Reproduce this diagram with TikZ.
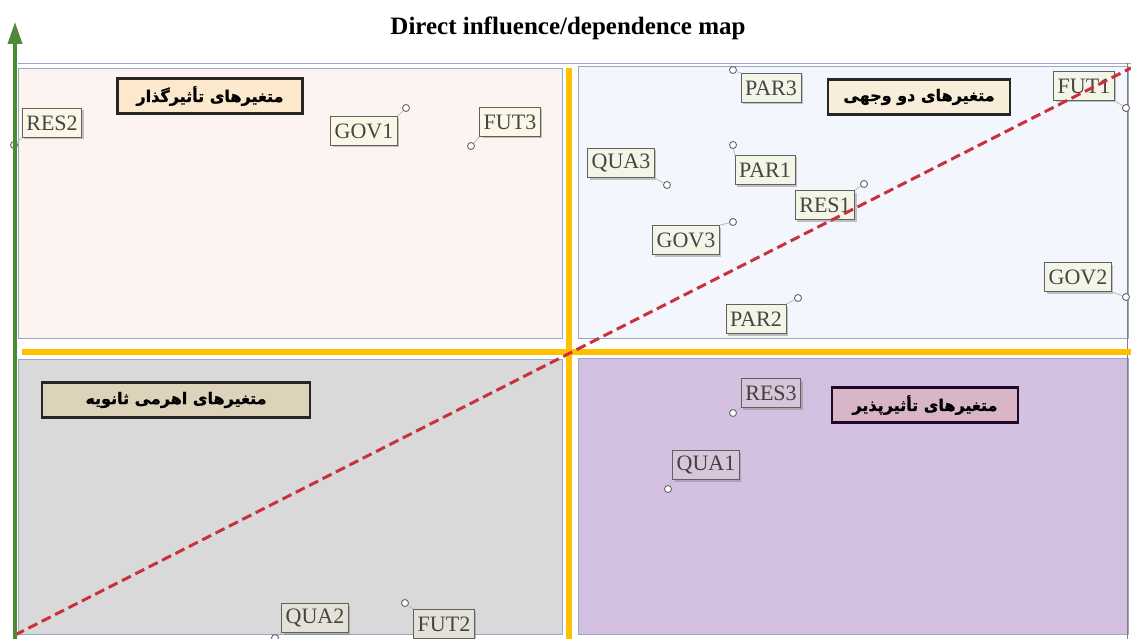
\documentclass[tikz,border=0pt]{standalone}
\usepackage{fontspec}
\setmainfont{Liberation Serif}
\newfontfamily\arabicfont[Script=Arabic,BoldFeatures={FakeBold=1.2}]{DejaVu Sans}
\TeXXeTstate=1
\usetikzlibrary{arrows.meta,shadows}

\definecolor{quadTL}{HTML}{FDF3F1}
\definecolor{quadTR}{HTML}{F3F6FC}
\definecolor{quadBL}{HTML}{D9D9D9}
\definecolor{quadBR}{HTML}{D4C0E1}
\definecolor{framecol}{HTML}{95A8C8}
\definecolor{axisorange}{HTML}{FFC000}
\definecolor{axisgreen}{HTML}{4E8A35}
\definecolor{diagred}{HTML}{C8323C}
\definecolor{labTL}{HTML}{FBF7E6}
\definecolor{labTR}{HTML}{F3F6E6}
\definecolor{labBL}{HTML}{E4E1D6}
\definecolor{labBR}{HTML}{D9C5D9}
\definecolor{labtext}{HTML}{454545}
\definecolor{catTL}{HTML}{FCE8CC}
\definecolor{catTR}{HTML}{F8EDD8}
\definecolor{catBL}{HTML}{DDD3BB}
\definecolor{catBR}{HTML}{D8B5C7}
\definecolor{catBRline}{HTML}{1E0A28}

\tikzset{
	quad/.style={draw=framecol, line width=0.8pt},
	varlabel/.style={draw=gray!75!black, line width=0.8pt, text=labtext,
		font=\fontsize{22}{22}\selectfont, inner xsep=4pt, inner ysep=3pt,
		minimum height=29pt,
		drop shadow={shadow xshift=2pt, shadow yshift=-2pt, opacity=0.45}},
	varpoint/.style={circle, draw=gray!80!black, fill=white, line width=0.9pt,
		inner sep=0pt, minimum size=7pt},
	leader/.style={draw=gray!55, line width=0.8pt},
	catbox/.style={draw=black!85, line width=2.5pt, inner sep=0pt,
		minimum height=35pt, font=\arabicfont\bfseries\fontsize{16}{16}\selectfont},
}

\begin{document}
\begin{tikzpicture}[x=1pt, y=-1pt]
	\useasboundingbox (0,0) rectangle (1131,639);
	% title
	\node[font=\bfseries\fontsize{25}{25}\selectfont] (title) at (568,28) {Direct influence/dependence map};
	% quadrants
	\draw[quad, fill=quadTL] (18,68) rectangle (562,338);
	\draw[quad, fill=quadTR] (578,66) rectangle (1128,338);
	\draw[quad, fill=quadBL] (18,359) rectangle (562,634);
	\draw[quad, fill=quadBR] (578,358) rectangle (1128,634);
	\draw[framecol, line width=0.8pt] (18,63) -- (1131,63);
	\draw[gray, line width=0.6pt] (1127,63) -- (1127,639);
	% axes of the quadrants
	\coordinate (hL) at (22,352);
	\coordinate (hR) at (1131,352);
	\coordinate (vT) at (569,68);
	\coordinate (vB) at (569,639);
	\draw[axisorange, line width=6pt] (hL) -- (hR);
	\draw[axisorange, line width=6pt] (vT) -- (vB);

	% variables
	\node[varpoint] (RES2p) at (14,145) {};
	\node[varlabel, fill=labTL] (RES2) at (52,123) {RES2};
	\draw[leader] (RES2p) -- (RES2.south west);
	\node[varpoint] (GOV1p) at (406,108) {};
	\node[varlabel, fill=labTL] (GOV1) at (364,131) {GOV1};
	\draw[leader] (GOV1p) -- (GOV1.north east);
	\node[varpoint] (FUT3p) at (471,146) {};
	\node[varlabel, fill=labTL] (FUT3) at (510,122) {FUT3};
	\draw[leader] (FUT3p) -- (FUT3.south west);

	\node[varpoint] (PAR3p) at (733,70) {};
	\node[varlabel, fill=labTR] (PAR3) at (771,88) {PAR3};
	\draw[leader] (PAR3p) -- (PAR3.north west);
	\node[varpoint] (FUT1p) at (1126,108) {};
	\node[varlabel, fill=labTR] (FUT1) at (1084,86) {FUT1};
	\draw[leader] (FUT1p) -- (FUT1.south east);
	\node[varpoint] (QUA3p) at (667,185) {};
	\node[varlabel, fill=labTR] (QUA3) at (621,163) {QUA3};
	\draw[leader] (QUA3p) -- (QUA3.south east);
	\node[varpoint] (PAR1p) at (733,145) {};
	\node[varlabel, fill=labTR] (PAR1) at (765,170) {PAR1};
	\draw[leader] (PAR1p) -- (PAR1.north west);
	\node[varpoint] (RES1p) at (864,184) {};
	\node[varlabel, fill=labTR] (RES1) at (825,205) {RES1};
	\draw[leader] (RES1p) -- (RES1.north east);
	\node[varpoint] (GOV3p) at (733,222) {};
	\node[varlabel, fill=labTR] (GOV3) at (686,240) {GOV3};
	\draw[leader] (GOV3p) -- (GOV3.north east);
	\node[varpoint] (GOV2p) at (1126,297) {};
	\node[varlabel, fill=labTR] (GOV2) at (1078,277) {GOV2};
	\draw[leader] (GOV2p) -- (GOV2.south east);
	\node[varpoint] (PAR2p) at (798,298) {};
	\node[varlabel, fill=labTR] (PAR2) at (756,319) {PAR2};
	\draw[leader] (PAR2p) -- (PAR2.north east);

	\node[varpoint] (RES3p) at (733,413) {};
	\node[varlabel, fill=labBR, text=black!75] (RES3) at (771,393) {RES3};
	\draw[leader] (RES3p) -- (RES3.south west);
	\node[varpoint] (QUA1p) at (668,489) {};
	\node[varlabel, fill=labBR, text=black!75] (QUA1) at (706,465) {QUA1};
	\draw[leader] (QUA1p) -- (QUA1.south west);

	\node[varpoint] (QUA2p) at (275,638) {};
	\node[varlabel, fill=labBL] (QUA2) at (315,618) {QUA2};
	\draw[leader] (QUA2p) -- (QUA2.south west);
	\node[varpoint] (FUT2p) at (405,603) {};
	\node[varlabel, fill=labBL] (FUT2) at (444,624) {FUT2};
	\draw[leader] (FUT2p) -- (FUT2.north west);

	% category boxes
	\node[catbox, fill=catTL, minimum width=185pt] (infl) at (210,96) {\beginR متغیرهای تأثیرگذار\endR};
	\node[catbox, fill=catTR, minimum width=182pt] (dual) at (919,97) {\beginR متغیرهای دو وجهی\endR};
	\node[catbox, fill=catBL, minimum width=268pt] (lever) at (176,400) {\beginR متغیرهای اهرمی ثانویه\endR};
	\node[catbox, fill=catBR, draw=catBRline, minimum width=186pt] (dep) at (925,405) {\beginR متغیرهای تأثیرپذیر\endR};

	% diagonal and vertical axis
	\coordinate (dStart) at (15,635);
	\coordinate (dEnd) at (1131,68);
	\draw[diagred, line width=3pt, dash pattern=on 10pt off 5pt] (dStart) -- (dEnd);
	\coordinate (yBottom) at (15,639);
	\coordinate (yTop) at (15,22);
	\draw[axisgreen, line width=3.5pt, -{Triangle[width=14pt,length=22pt]}] (yBottom) -- (yTop);
\end{tikzpicture}
\end{document}
